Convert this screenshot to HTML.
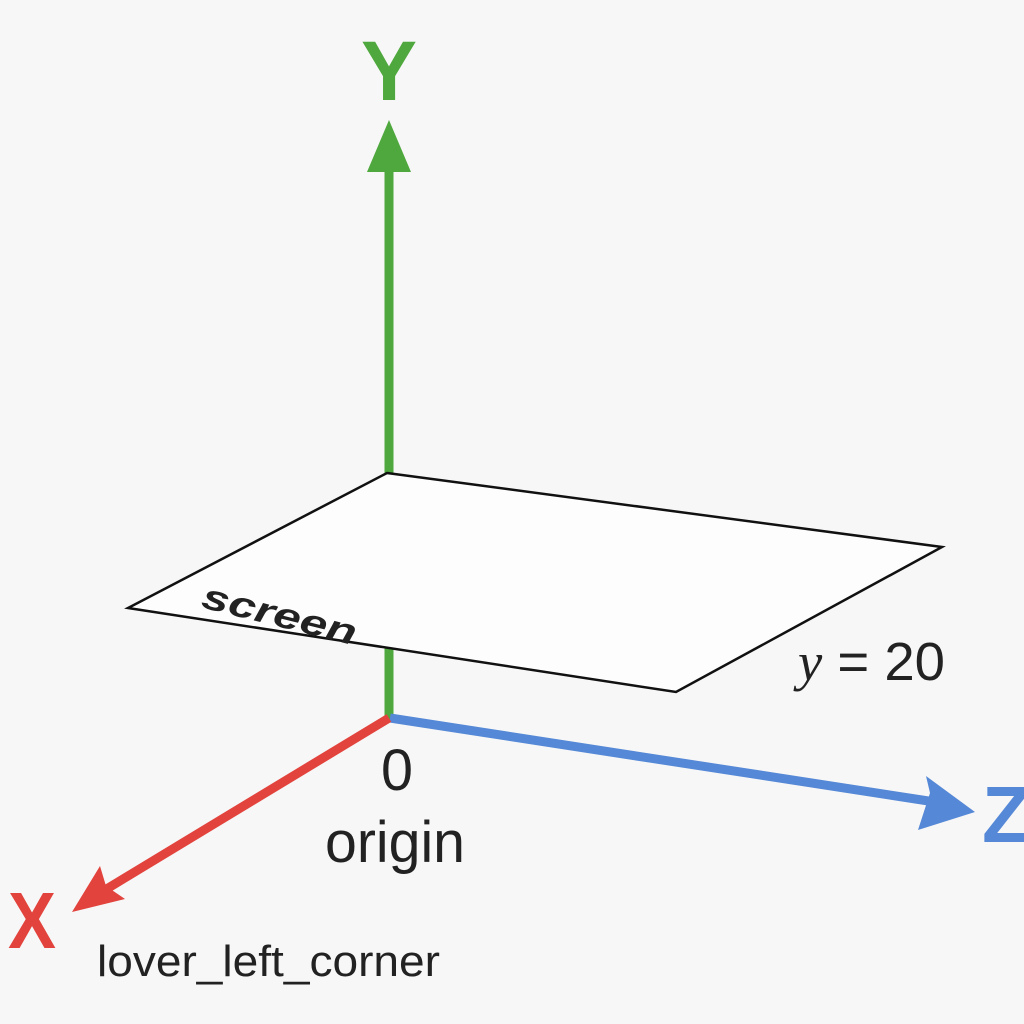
<!DOCTYPE html>
<html><head><meta charset="utf-8"><style>
html,body{margin:0;padding:0;background:#f7f7f7;}
svg{display:block;}
text{font-family:"Liberation Sans",sans-serif;}
</style></head><body>
<svg width="1024" height="1024" viewBox="0 0 1024 1024">
<rect width="1024" height="1024" fill="#f7f7f7"/>
<g>
<line x1="389" y1="720" x2="389" y2="165" stroke="#4fa83d" stroke-width="9"/>
<polygon points="389,120 367,172 411,172" fill="#4fa83d"/>
</g>
<text x="389" y="100" text-anchor="middle" font-size="84" font-weight="bold" fill="#4fa83d">Y</text>
<polygon points="387,473 942,547 676,692 128,608" fill="#fdfdfd" stroke="#111" stroke-width="2.5"/>
<text x="200" y="607" font-size="36" font-weight="bold" font-style="italic" fill="#222" textLength="158" lengthAdjust="spacingAndGlyphs" transform="rotate(14 200 607)">screen</text>
<line x1="389" y1="652" x2="389" y2="720" stroke="#4fa83d" stroke-width="9"/>
<g>
<line x1="390" y1="718" x2="935" y2="802" stroke="#5588d6" stroke-width="9"/>
<polygon points="975,812 918,830 930,793 926,776" fill="#5588d6"/>
</g>
<text x="982" y="842" font-size="80" font-weight="bold" fill="#5588d6">Z</text>
<g>
<line x1="389" y1="718" x2="100" y2="893" stroke="#e2433c" stroke-width="9"/>
<polygon points="72,912 100,866 106,886 125,899" fill="#e2433c"/>
</g>
<text x="8" y="948" font-size="80" font-weight="bold" fill="#e2433c" textLength="48" lengthAdjust="spacingAndGlyphs">X</text>
<text x="381" y="790" font-size="58" fill="#222" textLength="32" lengthAdjust="spacingAndGlyphs">0</text>
<text x="325" y="862" font-size="58" fill="#222" textLength="140" lengthAdjust="spacingAndGlyphs">origin</text>
<text x="798" y="680" font-size="54" fill="#222" textLength="147" lengthAdjust="spacingAndGlyphs"><tspan font-family="Liberation Serif,serif" font-style="italic">y</tspan> = 20</text>
<text x="97" y="976" font-size="44" fill="#222" textLength="343" lengthAdjust="spacingAndGlyphs">lover_left_corner</text>
</svg>
</body></html>
